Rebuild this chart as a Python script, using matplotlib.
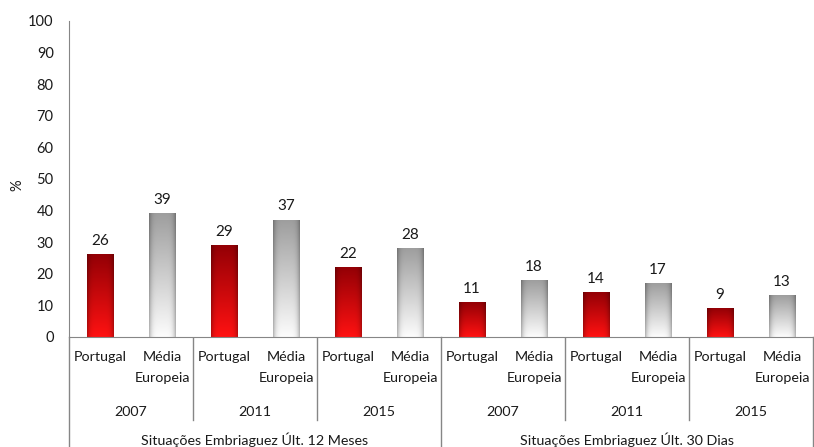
import numpy as np
import matplotlib.pyplot as plt

plt.rcParams['font.family'] = ['Lato', 'DejaVu Sans']

groups = ['Situações Embriaguez Últ. 12 Meses', 'Situações Embriaguez Últ. 30 Dias']
years = ['2007', '2011', '2015']
series = [['Portugal'], ['Média', 'Europeia']]
values = [26, 39, 29, 37, 22, 28,
          11, 18, 14, 17, 9, 13]

W, H = 814, 447
fig = plt.figure(figsize=(W / 100, H / 100), dpi=100)
left, right, top, bottom = 69, 813, 21, 337
ax = fig.add_axes([left / W, 1 - bottom / H, (right - left) / W, (bottom - top) / H])

n = len(values)
bar_w = 0.42
txt = '#1a1a1a'


def bar_image(color_top, color_bottom):
    ny, nx = 100, 40
    t = np.linspace(0, 1, ny)[:, None, None]
    col = np.array(color_bottom) * (1 - t) + np.array(color_top) * t
    xx = np.linspace(-1, 1, nx)[None, :, None]
    shade = 1 - 0.28 * np.abs(xx) ** 5
    return np.clip(col * shade, 0, 1) * np.ones((ny, nx, 3))


red_img = bar_image((0.58, 0.0, 0.02), (1.0, 0.07, 0.07))
gray_img = bar_image((0.62, 0.62, 0.62), (0.99, 0.99, 0.99))

for i, v in enumerate(values):
    img = red_img if i % 2 == 0 else gray_img
    ax.imshow(img, extent=(i - bar_w / 2, i + bar_w / 2, 0, v), origin='lower',
              aspect='auto', zorder=2, interpolation='bilinear')
    ax.text(i, v + 4.3, str(v), ha='center', va='center', fontsize=11, color=txt)

ax.set_xlim(-0.5, n - 0.5)
ax.set_ylim(0, 100)
ax.set_yticks(range(0, 101, 10))
ax.set_xticks([])
ax.tick_params(axis='y', labelsize=10.5, colors=txt, length=0, pad=11)
for s in ['top', 'right']:
    ax.spines[s].set_visible(False)
ax.spines['left'].set_color('#868686')
ax.spines['bottom'].set_color('#868686')
fig.text(17 / W, 1 - 185 / H, '%', rotation=90, ha='center', va='center',
         fontsize=10.5, color=txt)

# multi-level category labels
lab = fig.add_axes([left / W, 0, (right - left) / W, (H - bottom) / H])
lab.set_xlim(-0.5, n - 0.5)
lab.set_ylim(0, H - bottom)
lab.axis('off')
lc = '#868686'
for i in range(n):
    for j, line in enumerate(series[i % 2]):
        lab.text(i, 90 - 21 * j, line, ha='center', va='center', fontsize=10.3, color=txt)
for g in range(len(groups)):
    for y in range(len(years)):
        k = g * len(years) + y
        lab.text(2 * k + 0.5, 35, years[y], ha='center', va='center', fontsize=10.3, color=txt)
        if y > 0:
            lab.plot([2 * k - 0.5] * 2, [H - bottom, 27], color=lc, lw=1)
    lab.text(g * 6 + 2.5, 7, groups[g], ha='center', va='center', fontsize=10.3, color=txt)
for x in [-0.5, 5.5, 11.5]:
    lab.plot([x, x], [H - bottom, 0], color=lc, lw=1, clip_on=False)

fig.savefig('out.png', dpi=100)
